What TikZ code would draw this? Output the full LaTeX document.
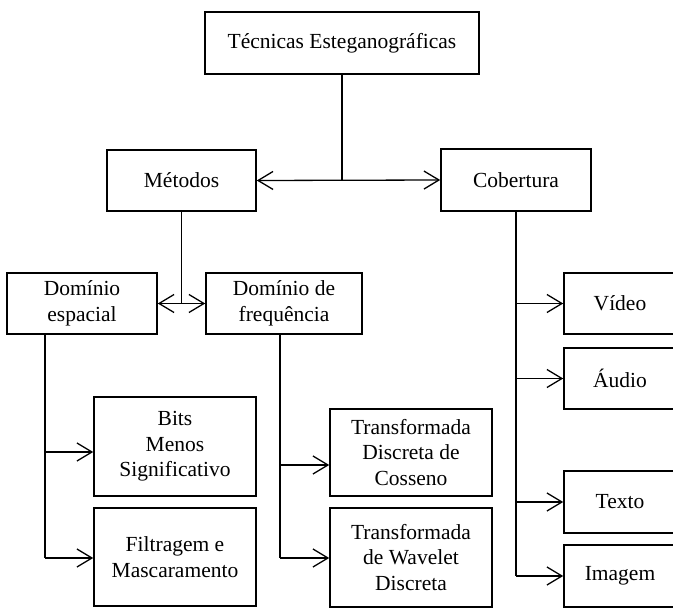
\documentclass[tikz,border=0pt]{standalone}
\usepackage{fontspec}
\setmainfont{Liberation Serif}
\usetikzlibrary{arrows.meta}
\begin{document}
\begin{tikzpicture}[x=1pt,y=-1pt,
  box/.style={draw, line width=1.6pt, rectangle, inner sep=0pt, align=center,
    font=\fontsize{21.5}{25.5}\selectfont},
  link/.style={line width=1.3pt},
  arr/.style={link, -{Straight Barb[length=15pt,width=18pt,line width=1.3pt]}},
  both/.style={link, {Straight Barb[length=15pt,width=18pt,line width=1.3pt]}-{Straight Barb[length=15pt,width=18pt,line width=1.3pt]}}]
\useasboundingbox (0,0) rectangle (673,608);
\clip (0,0) rectangle (673,608);

% top level
\node[box, minimum width=274pt, minimum height=62pt] (tec) at (342,43) {Técnicas Esteganográficas};
\node[box, minimum width=149pt, minimum height=61pt] (met) at (181.5,180.5) {Métodos};
\node[box, minimum width=150pt, minimum height=62pt] (cob) at (516,180) {Cobertura};

% methods
\node[box, minimum width=150pt, minimum height=61pt] (esp) at (82,303.5) {Domínio\\espacial};
\node[box, minimum width=156pt, minimum height=61pt] (frq) at (284,303.5) {Domínio de\\frequência};
\node[box, minimum width=162pt, minimum height=99pt] (lsb) at (175,446.5) {Bits\\Menos\\Significativo};
\node[box, minimum width=162pt, minimum height=98pt] (fil) at (175,557) {Filtragem e\\Mascaramento};
\node[box, minimum width=162pt, minimum height=87pt] (dct) at (411,452.5) {Transformada\\Discreta de\\Cosseno};
\node[box, minimum width=162pt, minimum height=99pt] (dwt) at (411,557.5) {Transformada\\de Wavelet\\Discreta};

% cover media
\node[box, minimum width=112pt, minimum height=61pt] (vid) at (620,303.5) {Vídeo};
\node[box, minimum width=112pt, minimum height=61pt] (aud) at (620,378.5) {Áudio};
\node[box, minimum width=112pt, minimum height=62pt] (txt) at (620,502) {Texto};
\node[box, minimum width=112pt, minimum height=62pt] (img) at (620,576) {Imagem};

% connectors
\coordinate (j1) at (342,180);
\draw[link] (tec.south) -- (j1);
\draw[both] (met.east) -- (cob.west);

\coordinate (j2) at (181.5,303.5);
\draw[link] (met.south) -- (j2);
\draw[both] (esp.east) -- (frq.west);

\coordinate (e1) at (45,452);
\coordinate (e2) at (45,558);
\draw[link] (esp.south -| e1) -- (e2);
\draw[arr] (e1) -- (e1 -| lsb.west);
\draw[arr] (e2) -- (e2 -| fil.west);

\coordinate (f1) at (280,465);
\coordinate (f2) at (280,558);
\draw[link] (frq.south -| f1) -- (f2);
\draw[arr] (f1) -- (f1 -| dct.west);
\draw[arr] (f2) -- (f2 -| dwt.west);

\coordinate (c4) at (cob.south |- img);
\draw[link] (cob.south) -- (c4);
\draw[arr] (cob.south |- vid) -- (vid.west);
\draw[arr] (cob.south |- aud) -- (aud.west);
\draw[arr] (cob.south |- txt) -- (txt.west);
\draw[arr] (c4) -- (img.west);
\end{tikzpicture}
\end{document}
